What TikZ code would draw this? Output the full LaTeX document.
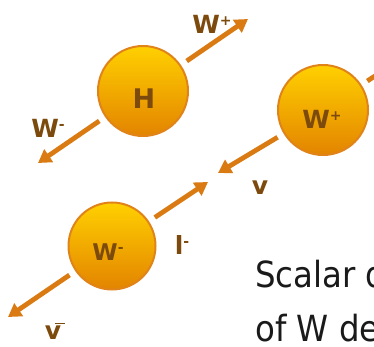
\documentclass[tikz,border=0pt]{standalone}
\usepackage{fontspec}
\setmainfont{DejaVu Sans}
\newfontfamily\bodyfont{DejaVu Sans}[FakeStretch=0.9]
\usetikzlibrary{arrows.meta}
\definecolor{labc}{HTML}{7B4A0C}
\definecolor{arrowc}{HTML}{DA7A12}
\definecolor{circtop}{HTML}{FFD000}
\definecolor{circbot}{HTML}{E38400}
\definecolor{circedge}{HTML}{E0841A}
\definecolor{textc}{HTML}{1A1A1A}
\tikzset{
  particle/.style={circle, inner sep=0pt, draw=circedge, line width=2pt,
    top color=circtop, bottom color=circbot},
  flow/.style={draw=arrowc, line width=4.8pt, shorten <=7pt,
    -{Triangle[length=13pt,width=15pt]}},
  lab/.style={text=labc, inner sep=0pt, font=\fontsize{25}{25}\selectfont\bfseries},
  bigtext/.style={text=textc, inner sep=0pt, anchor=base west,
    font=\bodyfont\fontsize{36}{36}\selectfont}
}
\newcommand{\supp}[1]{\raisebox{8pt}{\fontsize{14}{14}\selectfont #1}}
\begin{document}
\begin{tikzpicture}[x=1pt,y=-1pt]
\useasboundingbox (0,0) rectangle (374,347);
\clip (0,0) rectangle (374,347);
% particles
\node[particle, minimum size=90pt] (H) at (143,91) {};
\node[particle, minimum size=90pt] (Wp) at (323,110) {};
\node[particle, minimum size=87pt] (Wm) at (112,246) {};
% arrow tips
\coordinate (tHp) at (248,19);
\coordinate (tHm) at (38,163);
\coordinate (tWpm) at (218,173);
\coordinate (tWpp) at (430,40);
\coordinate (tWmp) at (208,182);
\coordinate (tWmm) at (8,317);
\draw[flow] (H) -- (tHp);
\draw[flow] (H) -- (tHm);
\draw[flow] (Wp) -- (tWpm);
\draw[flow] (Wp) -- (tWpp);
\draw[flow] (Wm) -- (tWmp);
\draw[flow] (Wm) -- (tWmm);
% labels in circles
\node[lab, font=\fontsize{27}{27}\selectfont\bfseries] (Hl) at (144,99) {H};
\node[lab] (Wpl) at (322,119) {W\supp{+}};
\node[lab, font=\fontsize{23}{23}\selectfont\bfseries] (Wml) at (108,252) {W\supp{-}};
% outside labels
\node[lab] (lWp) at (212,24) {W\supp{+}};
\node[lab] (lWm) at (48,128) {W\supp{-}};
\node[lab] (lv) at (260,188) {v};
\node[lab] (ll) at (182,245) {l\supp{-}};
\node[lab] (lvb) at (55,331) {v\kern-6pt\raisebox{15pt}{\rule{10pt}{1.5pt}}};
% body text
\node[bigtext] (t1) at (255,287) {Scalar d};
\node[bigtext] (t2) at (255,341) {of W de};
\end{tikzpicture}
\end{document}
